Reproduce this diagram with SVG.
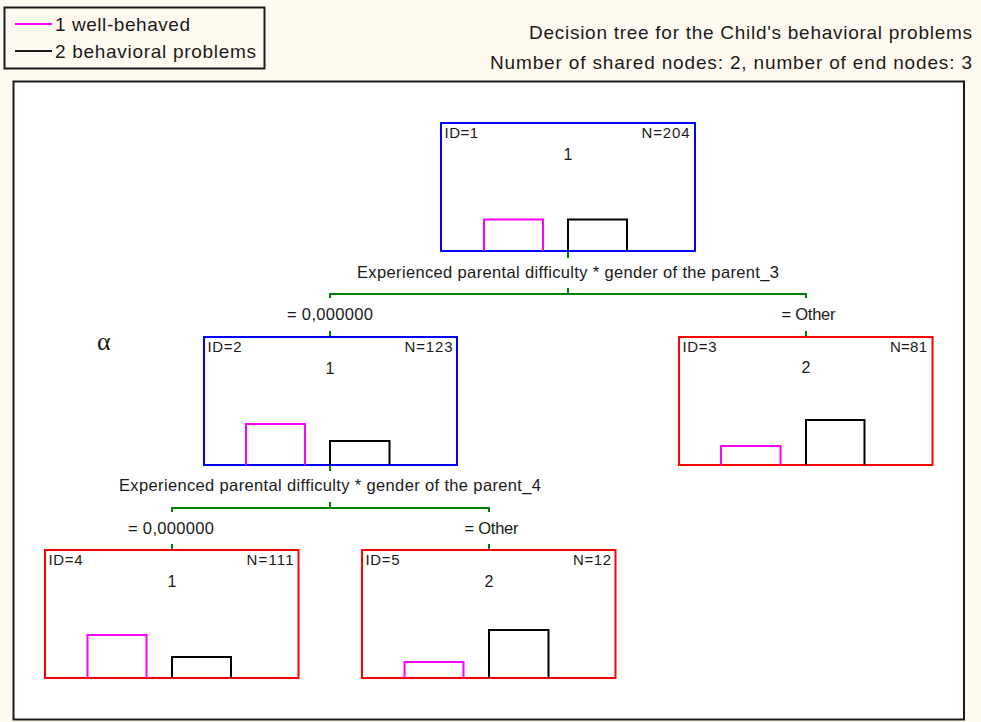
<svg xmlns="http://www.w3.org/2000/svg" width="981" height="722" viewBox="0 0 981 722">
<style>
text{font-family:"Liberation Sans",Arial,sans-serif;fill:#1a1a1a}
.big{font-size:19px}
.lbl{font-size:16.5px;text-anchor:middle}
.nt{font-size:15px}
.nc{font-size:16px;text-anchor:middle}
.blue{fill:none;stroke:#0000ff;stroke-width:2}
.red{fill:none;stroke:#ff0000;stroke-width:2}
.m{fill:none;stroke:#ff00ff;stroke-width:2}
.k{fill:none;stroke:#000;stroke-width:2}
.g{fill:none;stroke:#008000;stroke-width:2}
</style>
<rect x="0" y="0" width="981" height="722" fill="#fffaf0"/>
<rect x="13.5" y="81.5" width="950.5" height="638" fill="#ffffff" stroke="#1a1a1a" stroke-width="2"/>
<g id="legend">
<rect x="4.5" y="7.5" width="260" height="61" fill="#fffaf0" stroke="#1a1a1a" stroke-width="2"/>
<line x1="15" y1="24" x2="52" y2="24" stroke="#ff00ff" stroke-width="2"/>
<text class="big" x="55" y="31" textLength="135">1 well-behaved</text>
<line x1="15" y1="51" x2="52" y2="51" stroke="#1a1a1a" stroke-width="2"/>
<text class="big" x="55" y="58" textLength="201">2 behavioral problems</text>
</g>
<g id="title">
<text class="big" x="972" y="38.5" text-anchor="end" textLength="443">Decision tree for the Child's behavioral problems</text>
<text class="big" x="972" y="68.5" text-anchor="end" textLength="482">Number of shared nodes: 2, number of end nodes: 3</text>
</g>
<text x="97" y="350" style="font-family:'Liberation Serif','Times New Roman',serif;font-size:26px">α</text>
<g id="connectors">
<path class="g" d="M568 251V258M568 288V294M330 298V294H806V298M330 331V337M806 331V337"/>
<text class="lbl" x="568" y="277.5" textLength="422">Experienced parental difficulty * gender of the parent_3</text>
<text class="lbl" x="330" y="320" textLength="86">= 0,000000</text>
<text class="lbl" x="808.5" y="320" textLength="54">= Other</text>
<path class="g" d="M330 465V471M330 502V508M172 512V508H489V512M172 544V550M489 544V550"/>
<text class="lbl" x="330" y="490.5" textLength="422">Experienced parental difficulty * gender of the parent_4</text>
<text class="lbl" x="171" y="534" textLength="86">= 0,000000</text>
<text class="lbl" x="491.5" y="534" textLength="54">= Other</text>
</g>
<g id="node1">
<rect class="blue" x="441" y="123" width="254" height="128"/>
<text class="nt" x="444.5" y="138" textLength="33.5">ID=1</text>
<text class="nt" x="689.5" y="138" text-anchor="end" textLength="48">N=204</text>
<text class="nc" x="568" y="160">1</text>
<path class="m" d="M484 251V219.5H543V251"/>
<path class="k" d="M568 251V219.5H627V251"/>
</g>
<g id="node2">
<rect class="blue" x="204" y="337" width="253" height="128"/>
<text class="nt" x="207.5" y="352" textLength="34">ID=2</text>
<text class="nt" x="452.5" y="352" text-anchor="end" textLength="48">N=123</text>
<text class="nc" x="330" y="374">1</text>
<path class="m" d="M246 465V424H305V465"/>
<path class="k" d="M330 465V441H389.5V465"/>
</g>
<g id="node3">
<rect class="red" x="679" y="337" width="253.5" height="128"/>
<text class="nt" x="682.5" y="352" textLength="34">ID=3</text>
<text class="nt" x="927" y="352" text-anchor="end" textLength="37">N=81</text>
<text class="nc" x="806" y="373">2</text>
<path class="m" d="M721 465V446H780.5V465"/>
<path class="k" d="M806 465V420H864.5V465"/>
</g>
<g id="node4">
<rect class="red" x="45" y="550" width="253.5" height="128"/>
<text class="nt" x="48.5" y="565" textLength="34">ID=4</text>
<text class="nt" x="293.5" y="565" text-anchor="end" textLength="47">N=111</text>
<text class="nc" x="172" y="587">1</text>
<path class="m" d="M87.5 678V635H146.5V678"/>
<path class="k" d="M172 678V657H231V678"/>
</g>
<g id="node5">
<rect class="red" x="362" y="550" width="253.5" height="128"/>
<text class="nt" x="365.5" y="565" textLength="34">ID=5</text>
<text class="nt" x="611" y="565" text-anchor="end" textLength="38">N=12</text>
<text class="nc" x="489" y="587">2</text>
<path class="m" d="M404.5 678V662H463.5V678"/>
<path class="k" d="M489 678V630H548.5V678"/>
</g>
</svg>
